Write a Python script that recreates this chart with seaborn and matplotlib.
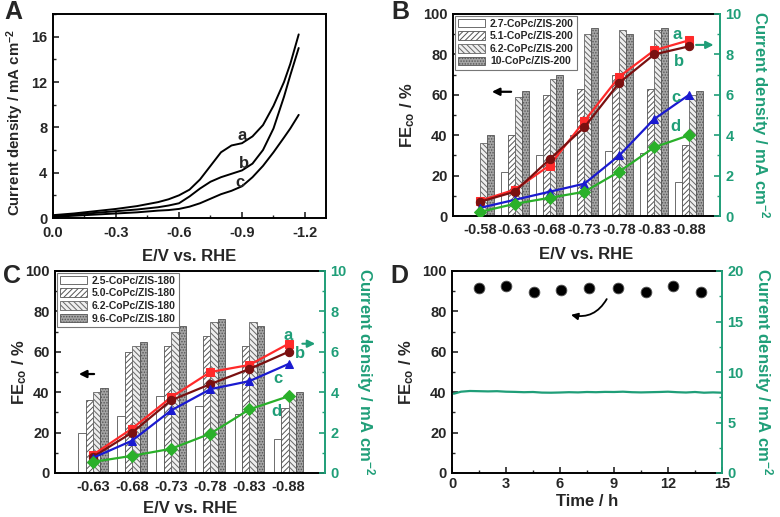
import numpy as np
import pandas as pd
import matplotlib
matplotlib.use("Agg")
import matplotlib.pyplot as plt
import seaborn as sns
from matplotlib.patches import Patch
from matplotlib.ticker import MultipleLocator, FormatStrFormatter

sns.set_theme(style="ticks")
plt.rcParams["font.family"] = ["Liberation Sans", "DejaVu Sans"]
plt.rcParams["font.weight"] = "bold"
plt.rcParams["axes.labelweight"] = "bold"
plt.rcParams["mathtext.fontset"] = "custom"
plt.rcParams["mathtext.bf"] = "Liberation Sans:bold"
plt.rcParams["mathtext.rm"] = "Liberation Sans:bold"
plt.rcParams["mathtext.default"] = "bf"
plt.rcParams["hatch.linewidth"] = 0.7
plt.rcParams["xtick.direction"] = "in"
plt.rcParams["ytick.direction"] = "in"

GREEN = "#1f9e78"

# panel A: LSV curves
lsv_E = [0, -0.1, -0.2, -0.3, -0.4, -0.5, -0.55, -0.6, -0.65, -0.7, -0.75,
         -0.8, -0.85, -0.9, -0.95, -1.0, -1.05, -1.1, -1.13, -1.17]
lsv_a = [0.25, 0.4, 0.6, 0.8, 1.05, 1.4, 1.65, 2.0, 2.5, 3.4, 4.6,
         5.8, 6.4, 6.6, 7.2, 8.2, 9.9, 12.0, 13.6, 16.2]
lsv_b = [0.15, 0.3, 0.45, 0.6, 0.75, 0.95, 1.1, 1.3, 1.9, 2.6, 3.2,
         3.6, 3.9, 4.2, 4.8, 6.0, 7.9, 10.7, 12.6, 15.0]
lsv_c = [0.1, 0.2, 0.3, 0.4, 0.5, 0.65, 0.7, 0.8, 1.0, 1.3, 1.7,
         2.1, 2.4, 2.8, 3.6, 4.6, 5.8, 7.1, 7.9, 9.1]

# panel B
b_pots = ["-0.58", "-0.63", "-0.68", "-0.73", "-0.78", "-0.83", "-0.88"]
b_samples = ["2.7-CoPc/ZIS-200", "5.1-CoPc/ZIS-200", "6.2-CoPc/ZIS-200", "10-CoPc/ZIS-200"]
b_fe_27 = [0, 22, 30, 40, 32, 31, 17]
b_fe_51 = [0, 40, 60, 63, 70, 63, 35]
b_fe_62 = [36, 59, 68, 90, 92, 92, 60]
b_fe_10 = [40, 62, 70, 93, 90, 93, 62]
b_j_a = [0.75, 1.3, 2.5, 4.7, 6.9, 8.2, 8.7]
b_j_b = [0.7, 1.2, 2.8, 4.4, 6.6, 8.0, 8.4]
b_j_c = [0.4, 0.8, 1.2, 1.6, 3.0, 4.8, 6.0]
b_j_d = [0.2, 0.6, 0.9, 1.2, 2.2, 3.4, 4.0]

# panel C
c_pots = ["-0.63", "-0.68", "-0.73", "-0.78", "-0.83", "-0.88"]
c_samples = ["2.5-CoPc/ZIS-180", "5.0-CoPc/ZIS-180", "6.2-CoPc/ZIS-180", "9.6-CoPc/ZIS-180"]
c_fe_25 = [20, 28, 38, 33, 29, 17]
c_fe_50 = [36, 60, 63, 68, 63, 32]
c_fe_62 = [40, 63, 70, 75, 75, 38]
c_fe_96 = [42, 65, 73, 76, 73, 40]
c_j_a = [0.9, 2.2, 3.75, 5.0, 5.35, 6.4]
c_j_b = [0.8, 2.0, 3.6, 4.4, 5.15, 6.0]
c_j_c = [0.75, 1.6, 3.1, 4.15, 4.55, 5.4]
c_j_d = [0.55, 0.85, 1.2, 1.95, 3.15, 3.8]

# panel D: stability
d_t_fe = [1.5, 3.0, 4.55, 6.05, 7.6, 9.2, 10.75, 12.3, 13.85]
d_fe = [91.8, 92.8, 89.8, 90.6, 91.8, 91.8, 89.8, 92.8, 89.8]
d_t_j = [0.1, 0.5, 1.0, 1.5, 2.0, 2.5, 3.0, 3.5, 4.0, 4.5, 5.0, 5.5, 6.0, 6.5, 7.0, 7.5,
         8.0, 8.5, 9.0, 9.5, 10.0, 10.5, 11.0, 11.5, 12.0, 12.5, 13.0, 13.5, 14.0, 14.5, 15.0]
d_j = [7.85, 8.05, 8.12, 8.1, 8.08, 8.1, 8.05, 8.03, 8.0, 8.02, 7.96, 7.95, 7.97, 8.0, 7.98, 8.02,
       8.0, 8.03, 8.02, 8.05, 8.0, 7.98, 8.0, 8.02, 8.05, 8.0, 7.97, 8.02, 7.95, 7.98, 7.95]

bar_styles = [
    dict(fc="white", hatch="", ec="#555555"),
    dict(fc="white", hatch="//////", ec="#555555"),
    dict(fc="#eeeeee", hatch="\\\\\\\\\\\\", ec="#666666"),
    dict(fc="#a5a5a5", hatch="......", ec="#555555"),
]
line_styles = [
    dict(color="#ff2a2a", marker="s"),
    dict(color="#7a1010", marker="o"),
    dict(color="#1a1ad0", marker="^"),
    dict(color="#2ab02a", marker="D"),
]
TICK_FS = 10.5
LAB_FS = 12


def style_ticks(ax, xmaj=None, xmin=None, ymaj=20, ymin=10):
    ax.tick_params(axis="both", which="major", length=4, width=1.2, labelsize=TICK_FS, pad=4)
    ax.tick_params(axis="both", which="minor", length=2, width=1.0)
    if xmaj:
        ax.xaxis.set_major_locator(MultipleLocator(xmaj))
        ax.xaxis.set_minor_locator(MultipleLocator(xmin))
    ax.yaxis.set_major_locator(MultipleLocator(ymaj))
    ax.yaxis.set_minor_locator(MultipleLocator(ymin))
    for s in ax.spines.values():
        s.set_linewidth(1.4)
        s.set_color("black")
    for lab in ax.get_xticklabels() + ax.get_yticklabels():
        lab.set_fontweight("bold")


def right_axis(ax, top, major, minor):
    ax2 = ax.twinx()
    ax2.set_ylim(0, top)
    ax2.yaxis.set_major_locator(MultipleLocator(major))
    ax2.yaxis.set_minor_locator(MultipleLocator(minor))
    ax2.tick_params(axis="y", which="major", length=4, width=1.2, colors=GREEN,
                    labelsize=TICK_FS, pad=4)
    ax2.tick_params(axis="y", which="minor", length=2, width=1.0, colors=GREEN)
    for name, s in ax2.spines.items():
        s.set_visible(name == "right")
    ax2.spines["right"].set_color(GREEN)
    ax2.spines["right"].set_linewidth(1.4)
    ax.spines["right"].set_visible(False)
    ax2.set_ylabel("Current density / mA cm$^{-2}$", color=GREEN, fontsize=LAB_FS,
                   rotation=270, labelpad=22)
    for lab in ax2.get_yticklabels():
        lab.set_fontweight("bold")
    return ax2


def bar_panel(ax, pots, samples, fe_lists, j_lists, width, xlim, labelpad, ylabelpad):
    df = pd.DataFrame({
        "E": [p for _ in samples for p in pots],
        "FE": [v for fe in fe_lists for v in fe],
        "sample": [s for s in samples for _ in pots],
    })
    sns.barplot(data=df, x="E", y="FE", hue="sample", order=pots, hue_order=samples,
                width=width, errorbar=None, legend=False, ax=ax)
    for cont, st in zip(ax.containers, bar_styles):
        for bar in cont:
            bar.set_facecolor(st["fc"])
            bar.set_hatch(st["hatch"])
            bar.set_edgecolor(st["ec"])
            bar.set_linewidth(0.6)
    handles = [Patch(facecolor=st["fc"], hatch=st["hatch"], edgecolor=st["ec"],
                     linewidth=0.6, label=s) for st, s in zip(bar_styles, samples)]
    leg = ax.legend(handles=handles, loc="upper left", fancybox=False, framealpha=1,
                    edgecolor="#777777", borderpad=0.3, labelspacing=0.25,
                    handlelength=2.6, handleheight=0.9, handletextpad=0.5,
                    borderaxespad=0.15, prop=dict(weight="bold", size=7.5))
    leg.get_frame().set_linewidth(0.8)
    ax.set_xlim(*xlim)
    ax.set_ylim(0, 100)
    ax.set_xlabel("E/V vs. RHE", fontsize=LAB_FS, labelpad=labelpad)
    ax.set_ylabel(r"FE$_{\rm co}$ / %", fontsize=LAB_FS, labelpad=ylabelpad)
    style_ticks(ax)
    ax.tick_params(axis="x", which="both", length=0, pad=5)
    ax2 = right_axis(ax, 10, 2, 1)
    pos = np.arange(len(pots))
    for vals, st in zip(j_lists, line_styles):
        sns.lineplot(x=pos, y=vals, color=st["color"], marker=st["marker"], markersize=6,
                     markeredgecolor=st["color"], linewidth=1.6, ax=ax2, legend=False)
    ax2.set_xlim(*xlim)
    return ax2


fig = plt.figure(figsize=(7.8, 5.17), dpi=100)
W, H = 780, 517


def place(l, t, r, b):
    return fig.add_axes([l / W, 1 - b / H, (r - l) / W, (b - t) / H])


# ---- A
axA = place(53, 14, 326, 218)
for vals in [lsv_a, lsv_b, lsv_c]:
    sns.lineplot(x=lsv_E, y=vals, color="black", linewidth=1.4, ax=axA, sort=False)
axA.set_xlim(0, -1.3)
axA.set_ylim(0, 18)
style_ticks(axA, 0.3, 0.15, 4, 2)
axA.tick_params(top=False, right=False)
axA.tick_params(axis="x", pad=6)
axA.xaxis.set_major_formatter(FormatStrFormatter("%.1f"))
for lab in axA.get_xticklabels():
    lab.set_fontweight("bold")
axA.set_xlabel("E/V vs. RHE", fontsize=LAB_FS, labelpad=6)
axA.set_ylabel("Current density / mA cm$^{-2}$", fontsize=10.8)
axA.yaxis.set_label_coords(-0.1, 0.47)
for txt, x, y in [("a", -0.9, 7.3), ("b", -0.91, 4.85), ("c", -0.89, 3.15)]:
    axA.text(x, y, txt, fontsize=12, fontweight="bold", ha="center", va="center")

# ---- B
axB = place(453, 14, 720, 216)
axB2 = bar_panel(axB, b_pots, b_samples, [b_fe_27, b_fe_51, b_fe_62, b_fe_10],
                 [b_j_a, b_j_b, b_j_c, b_j_d], 0.8, (-0.765, 6.885), 7, 4)
for txt, x, y in [("a", 5.65, 9.0), ("b", 5.7, 7.64), ("c", 5.62, 5.88), ("d", 5.62, 4.42)]:
    axB2.text(x, y, txt, color=GREEN, fontsize=12, fontweight="bold", ha="center", va="center")
axB2.annotate("", xy=(6.78, 8.47), xytext=(6.12, 8.47), annotation_clip=False,
              arrowprops=dict(arrowstyle="-|>", color=GREEN, lw=1.5, mutation_scale=11))
axB.annotate("", xy=(0.27, 61.5), xytext=(0.98, 61.5),
             arrowprops=dict(arrowstyle="-|>", color="black", lw=1.6, mutation_scale=11))

# ---- C
axC = place(55, 271, 325, 473)
axC2 = bar_panel(axC, c_pots, c_samples, [c_fe_25, c_fe_50, c_fe_62, c_fe_96],
                 [c_j_a, c_j_b, c_j_c, c_j_d], 0.76, (-0.97, 5.93), 5, -3)
for txt, x, y in [("a", 5.0, 6.83), ("b", 5.3, 5.93), ("c", 4.73, 4.69), ("d", 4.69, 3.04)]:
    axC2.text(x, y, txt, color=GREEN, fontsize=12, fontweight="bold", ha="center", va="center")
axC2.annotate("", xy=(5.75, 6.4), xytext=(5.28, 6.4), annotation_clip=False,
              arrowprops=dict(arrowstyle="-|>", color=GREEN, lw=1.5, mutation_scale=11))
axC.annotate("", xy=(-0.43, 49), xytext=(0.1, 49),
             arrowprops=dict(arrowstyle="-|>", color="black", lw=1.6, mutation_scale=11))

# ---- D
axD = place(452, 271, 722, 473)
sns.scatterplot(x=d_t_fe, y=d_fe, color="black", s=60, edgecolor="#555555", linewidth=0.6,
                ax=axD, zorder=3)
axD.set_xlim(0, 15)
axD.set_ylim(0, 100)
style_ticks(axD, 3, 1.5, 20, 10)
axD.tick_params(top=False, right=False)
axD.tick_params(axis="x", pad=3)
axD.set_xlabel("Time / h", fontsize=LAB_FS, labelpad=2)
axD.set_ylabel(r"FE$_{\rm co}$ / %", fontsize=LAB_FS, labelpad=4)
axD.annotate("", xy=(6.46, 78.6), xytext=(8.67, 87.3),
             arrowprops=dict(arrowstyle="-|>", color="black", lw=1.3, mutation_scale=10,
                             connectionstyle="arc3,rad=-0.4"))
axD2 = right_axis(axD, 20, 5, 2.5)
sns.lineplot(x=d_t_j, y=d_j, color=GREEN, linewidth=1.6, ax=axD2)
axD2.set_xlim(0, 15)

for letter, x, y in [("A", 4, 0), ("B", 391, 0), ("C", 3, 264), ("D", 390, 264)]:
    fig.text(x / W, 1 - y / H, letter, fontsize=18, fontweight="bold", ha="left", va="top")

fig.savefig("out.png", dpi=100)
